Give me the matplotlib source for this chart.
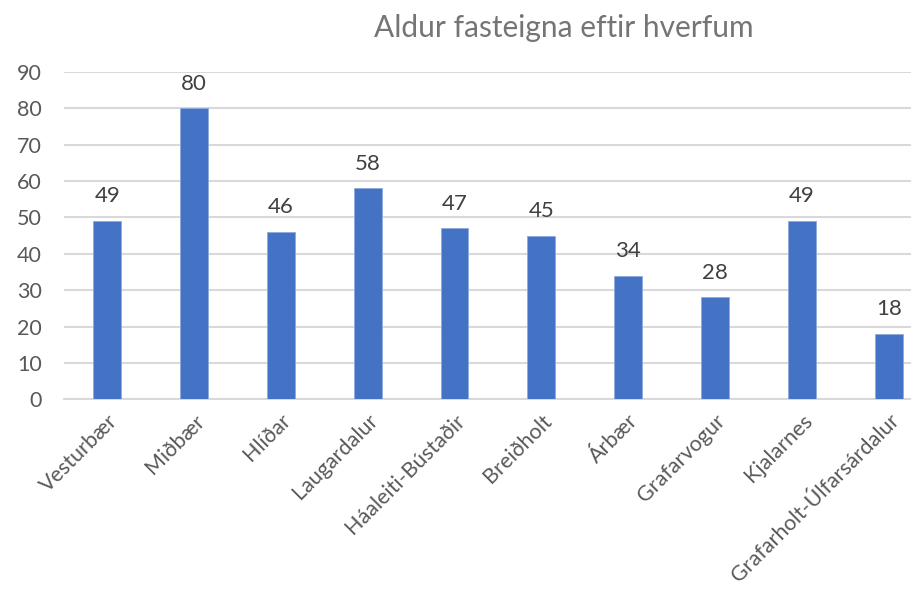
import matplotlib.pyplot as plt

hverfi = ["Vesturbær", "Miðbær", "Hlíðar", "Laugardalur", "Háaleiti-Bústaðir",
          "Breiðholt", "Árbær", "Grafarvogur", "Kjalarnes", "Grafarholt-Úlfarsárdalur"]
aldur = [49, 80, 46, 58, 47, 45, 34, 28, 49, 18]

plt.rcParams['font.family'] = ['Lato', 'DejaVu Sans']

fig = plt.figure(figsize=(9.12, 5.93), dpi=100)
ax = fig.add_axes([0.070, 0.3266, 0.952, 0.5524])

x = list(range(len(hverfi)))
bars = ax.bar(x, aldur, width=0.32, color="#4472C4", edgecolor="#8FAADC", linewidth=0.6, zorder=3)

for xi, v in zip(x, aldur):
    ax.text(xi, v + 4, str(v), ha="center", va="bottom", fontsize=16, color="#404040")

ax.set_xlim(-0.5, len(hverfi) - 0.5)
ax.set_ylim(0, 90)
ax.set_yticks(range(0, 91, 10))
ax.grid(axis="y", color="#D9D9D9", linewidth=1.5, zorder=0)
for s in ["top", "right", "left"]:
    ax.spines[s].set_visible(False)
ax.spines["bottom"].set_color("#D9D9D9")
ax.spines["bottom"].set_linewidth(1.5)
ax.tick_params(axis="both", length=0, labelsize=15.5, labelcolor="#595959")
ax.tick_params(axis="y", pad=16)
ax.set_xticks(x)
ax.set_xticklabels(hverfi, rotation=45, ha="right", rotation_mode="anchor")
ax.tick_params(axis="x", pad=8)

fig.text(0.618, 0.952, "Aldur fasteigna eftir hverfum", ha="center", va="center",
         fontsize=21.5, color="#757575")

fig.savefig("out.png", dpi=100)
